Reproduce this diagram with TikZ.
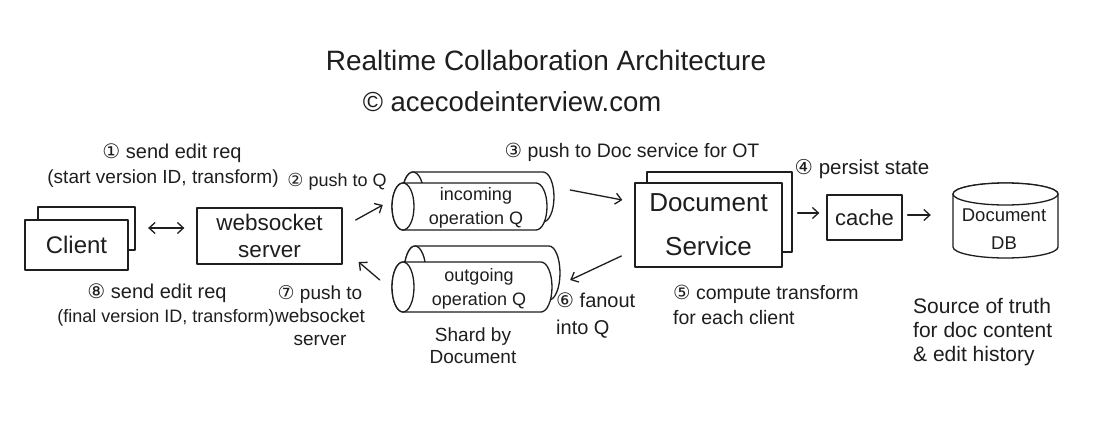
\documentclass[tikz,border=0pt]{standalone}
\usepackage{fontspec}
\setmainfont{Liberation Sans}
\newfontfamily\symfont{DejaVu Sans}
\usetikzlibrary{arrows.meta,calc}
\definecolor{ink}{HTML}{1E1E1E}
\newcommand{\cn}[1]{{\symfont #1}}
\newcommand{\fs}[2]{\fontsize{#1}{#2}\selectfont}
% horizontal cylinder: X, Y (top-left, page px), w, h, rx
\newcommand{\hcyl}[5]{%
  \draw[shp] ({#1+#5},{-#2}) -- ({#1+#3-#5},{-#2})
    arc[start angle=90,end angle=-90,x radius=#5,y radius={#4/2}]
    -- ({#1+#5},{-#2-#4})
    arc[start angle=-90,end angle=-270,x radius=#5,y radius={#4/2}] -- cycle;
  \draw[shp] ({#1+#5},{-#2-#4/2}) ellipse[x radius=#5,y radius={#4/2}];}
\tikzset{
  shp/.style={draw=ink, line width=1.3pt, fill=white, line join=round},
  boxnode/.style={shp, rectangle, inner sep=0pt, text=ink},
  ghost/.style={draw=none, rectangle, inner sep=0pt},
  arr/.style={draw=ink, line width=1.3pt, line cap=round, -{Straight Barb[length=6pt,width=11pt]}},
  darr/.style={draw=ink, line width=1.3pt, line cap=round, {Straight Barb[length=6pt,width=11pt]}-{Straight Barb[length=6pt,width=11pt]}},
  lbl/.style={text=ink, font=\fs{19}{24}, inner sep=0pt},
  intext/.style={text=ink, inner sep=0pt, align=center},
}
\begin{document}
\begin{tikzpicture}[x=1pt,y=1pt]
\useasboundingbox[fill=white] (0,0) rectangle (1099,-439);

% title
\node[text=ink, inner sep=0pt, font=\fs{28}{32}] (title) at (546,-60) {Realtime Collaboration Architecture};
\node[text=ink, inner sep=0pt, font=\fs{27.5}{32}] (sub) at (512,-102) {© acecodeinterview.com};

% client (stacked)
\node[boxnode, minimum width=97pt, minimum height=43pt] (clb) at (86.5,-228.5) {};
\node[boxnode, minimum width=103pt, minimum height=50pt, font=\fs{24}{26}] (cl) at (76.5,-245) {Client};

% websocket server
\node[boxnode, minimum width=145pt, minimum height=56pt, align=center, font=\fs{22.5}{27}] (ws) at (269.5,-236) {websocket\\server};

% incoming queue (stacked cylinders)
\hcyl{402}{172}{152}{50}{11}
\hcyl{392}{183}{155}{47}{11}
\node[ghost, minimum width=155pt, minimum height=47pt] (inq) at (469.5,-206.5) {};
\node[intext, font=\fs{18}{24}] (inqt) at (476,-208) {incoming\\operation Q};

% outgoing queue
\hcyl{404}{246}{156}{54}{11}
\hcyl{392}{262}{160}{50}{11}
\node[ghost, minimum width=160pt, minimum height=50pt] (outq) at (472,-287) {};
\node[intext, font=\fs{18}{24}] (outqt) at (479,-289) {outgoing\\operation Q};

% document service (stacked)
\node[boxnode, minimum width=145pt, minimum height=80pt] (docb) at (719.5,-212) {};
\node[boxnode, minimum width=147pt, minimum height=84pt, align=center, font=\fs{26}{44}] (doc) at (708.5,-225) {Document\\Service};

% cache
\node[boxnode, minimum width=75pt, minimum height=45pt, font=\fs{22}{24}] (cache) at (864.5,-217.5) {cache};

% document DB (vertical cylinder)
\draw[shp] (953,-194) -- (953,-247)
  arc[start angle=180,end angle=360,x radius=52.5,y radius=11]
  -- (1058,-194) arc[start angle=0,end angle=180,x radius=52.5,y radius=11] -- cycle;
\draw[shp] (1005.5,-194) ellipse[x radius=52.5,y radius=11];
\node[ghost, minimum width=105pt, minimum height=75pt] (db) at (1005.5,-220) {};
\node[intext, font=\fs{18.5}{28}] (dbt) at (1004,-229) {Document\\DB};

% connectors
\draw[darr] ([shift={(19.5,17)}]cl.east) -- ([shift={(-12,8)}]ws.west);
\draw[arr] ([shift={(13,16)}]ws.east) -- ([shift={(-9,1.5)}]inq.west);
\draw[arr] ([shift={(-12,7)}]outq.west) -- ([shift={(16,-26)}]ws.east);
\draw[arr] ([shift={(23,16.5)}]inq.east) -- ([shift={(-12,25)}]doc.west);
\draw[arr] ([shift={(-13,-31)}]doc.west) -- ([shift={(18,7)}]outq.east);
\draw[arr] ([shift={(15,12)}]doc.east) -- ([shift={(-7,4.5)}]cache.west);
\draw[arr] ([shift={(5,2.5)}]cache.east) -- ([shift={(-22,5)}]db.west);

% labels
\node[lbl, font=\fs{20}{24}] (l1a) at (172,-153) {\cn{①} send edit req};
\node[lbl] (l1b) at (163,-179) {(start version ID, transform)};
\node[lbl, font=\fs{18}{24}] (l2) at (337,-182) {\cn{②} push to Q};
\node[lbl, font=\fs{19.5}{24}] (l3) at (632,-152) {\cn{③} push to Doc service for OT};
\node[lbl, font=\fs{20.5}{24}] (l4) at (862,-169) {\cn{④} persist state};
\node[lbl, anchor=west, align=left, font=\fs{19.5}{25}] (l5) at (673,-305) {\cn{⑤} compute transform\\for each client};
\node[lbl, anchor=west, align=left, font=\fs{20}{27}] (l6) at (556,-316) {\cn{⑥} fanout\\into Q};
\node[lbl, align=center, font=\fs{19}{23}] (l7) at (320,-316) {\cn{⑦} push to\\websocket\\server};
\node[lbl, font=\fs{20}{24}] (l8a) at (157,-293) {\cn{⑧} send edit req};
\node[lbl, font=\fs{18}{24}] (l8b) at (166,-318) {(final version ID, transform)};
\node[lbl, align=center, font=\fs{19}{22}] (shard) at (473,-346) {Shard by\\Document};
\node[lbl, anchor=west, align=left, font=\fs{21}{24}] (src) at (913,-332) {Source of truth\\for doc content\\\& edit history};
\end{tikzpicture}
\end{document}
